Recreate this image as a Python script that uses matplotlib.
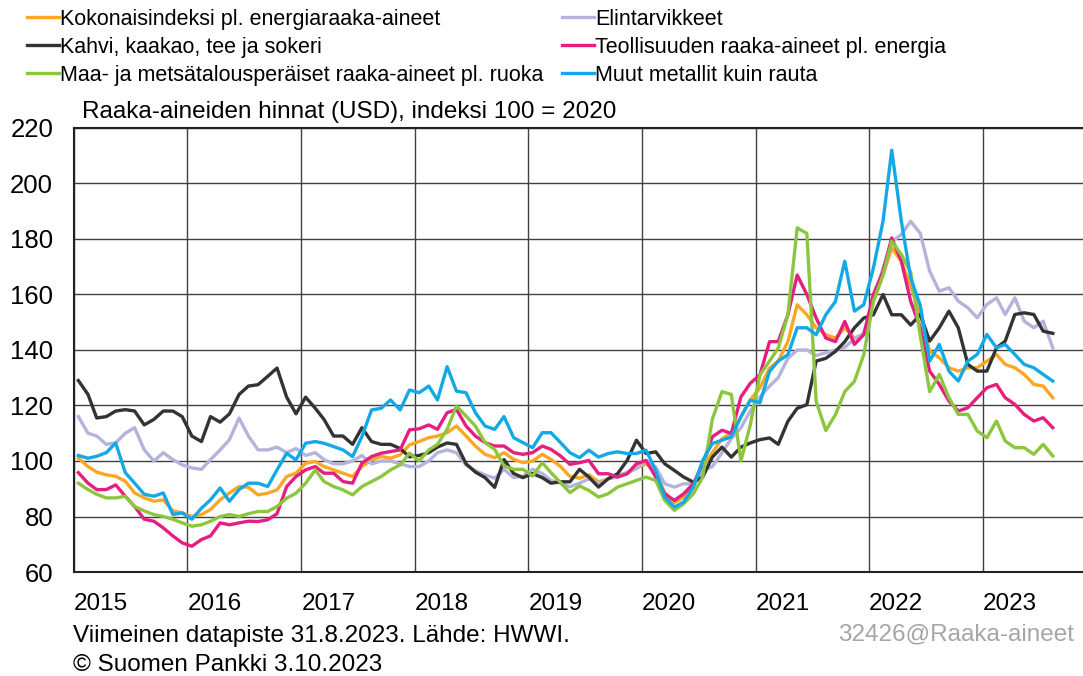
import datetime as dt
import pandas as pd
import matplotlib
matplotlib.use("Agg")
import matplotlib.pyplot as plt

plt.rcParams["font.family"] = ["Liberation Sans", "DejaVu Sans"]

# Monthly values, Jan 2015 .. Aug 2023
dates = pd.date_range("2015-01-01", "2023-08-01", freq="MS") + pd.Timedelta(days=14)

kokonais = [
    101, 98, 96, 95, 94.5, 92.7, 88.5, 86.7, 85.5, 86, 82, 81.3,
    80, 80.7, 82.5, 86, 88.5, 90.8, 90.5, 87.8, 88.4, 89.6, 94.4, 95.6,
    99.2, 99.8, 98, 96.8, 95.6, 94.4, 98, 100.4, 101.6, 101, 102.2, 105.8,
    107, 108.4, 109, 110.2, 112.6, 109, 105.4, 102.4, 101.2, 103, 100.6, 99.4,
    100, 102.4, 100.6, 98, 94.4, 93.8, 95, 92.5, 93.5, 95, 95.5, 97.5,
    99, 96, 88.5, 85, 87, 91, 98, 103, 108, 110, 116, 122,
    126.3, 133.5, 136, 143, 156.3, 152.7, 148, 145.5, 144.3, 148, 144.3, 145.5,
    157.5, 167, 176.8, 172, 163, 152.8, 139.6, 137.2, 133.6, 132.4, 133.6, 133.6,
    136, 138.4, 134.8, 133.6, 131.2, 127.6, 127, 122.8,
]
elintarvikkeet = [
    116, 110, 109, 106, 106.5, 110, 112, 104, 100, 103, 100.5, 98.6,
    97.5, 97, 100.5, 104, 107.7, 115.5, 109, 104, 104, 105, 103, 104.5,
    102, 103, 100.5, 99, 99, 100, 102, 99, 100, 100, 99, 98,
    98, 100, 103, 104, 103, 98.5, 96.5, 95, 93.8, 97, 94, 94.5,
    97, 95.5, 93, 92, 90.7, 92, 93.6, 91.8, 93.6, 94.2, 96, 97.2,
    100.2, 97.8, 91.8, 90.6, 91.8, 91.8, 96.6, 98, 103, 108, 112, 118,
    123, 127, 130, 137, 140, 140, 138, 139, 140, 141, 144, 146,
    157.5, 169.5, 179, 181.6, 186.4, 182, 168.4, 161.2, 162.4, 157.6, 155.2, 151.6,
    156.4, 158.8, 152.8, 158.8, 150.4, 148, 150.4, 140.8,
]
kahvi = [
    129, 124, 115.5, 116, 118, 118.5, 118, 113, 115, 118, 118, 116,
    109, 107, 116, 114, 117, 124, 127, 127.5, 130.5, 133.5, 123, 117,
    123, 119, 115, 109, 109, 106, 112, 107, 106, 106, 104.5, 101.5,
    102, 103, 105, 106.5, 106, 99, 96, 94, 90.5, 100.5, 95.5, 94,
    95.5, 94, 92, 92.5, 92.5, 97, 94.2, 90.6, 93.6, 95.4, 100.2, 107.5,
    102.7, 103.3, 99, 96.6, 94.2, 92.4, 94.2, 101.4, 105, 101.4, 105, 106.5,
    107.7, 108.3, 106, 114.3, 119, 120.3, 136, 137, 139.5, 143, 148, 151.5,
    152.7, 160, 152.7, 152.7, 149, 152.8, 143.2, 148, 154, 148, 134.8, 132.4,
    132.4, 140.8, 143.2, 152.8, 153.4, 152.8, 146.8, 146,
]
teollisuus = [
    95.8, 92, 89.7, 89.7, 91.4, 87.3, 83.6, 79, 78.3, 75.9, 73, 70.5,
    69.3, 71.7, 73, 77.7, 77, 77.7, 78.3, 78.2, 78.8, 81, 90.8, 94.4,
    96.8, 98, 95.6, 95.6, 92.6, 92, 99.2, 101.6, 102.8, 103.4, 104, 111.2,
    111.6, 113, 111.4, 117.4, 118.6, 112.6, 109, 106.6, 105.4, 105.4, 103, 102.4,
    103, 105.4, 104.2, 101.8, 98.8, 99.4, 100.2, 95.4, 95.4, 94.2, 95.4, 99,
    100.2, 94.2, 88.2, 85.8, 88.2, 91.8, 99, 108.7, 111.1, 109.9, 123.1, 128,
    131, 143, 143, 152.7, 167, 160, 151.5, 144.3, 143, 150.3, 142, 145.5,
    160, 168.3, 180.4, 172, 157.5, 148, 132.4, 127.6, 121.6, 118, 119.2, 122.8,
    126.4, 127.6, 122.8, 120.4, 116.8, 114.4, 115.6, 112,
]
maa_metsa = [
    92, 89.7, 88, 86.7, 86.7, 87.3, 83.6, 82, 80.7, 80, 79, 77.7,
    76.5, 77, 78.3, 80, 80.7, 80, 81, 81.8, 81.8, 83.6, 86.6, 88.4,
    92, 96.8, 92.6, 90.8, 89.6, 87.8, 90.8, 92.6, 94.4, 96.8, 98.6, 102.8,
    100, 104, 106, 111.4, 119.8, 116.2, 112.6, 106.6, 104.2, 98.2, 97, 97,
    94.6, 99.4, 95.8, 92.2, 88.6, 91, 89.4, 87, 88.2, 90.6, 91.8, 93,
    94.2, 93, 85.8, 82.2, 84.6, 88.2, 94.2, 115, 125, 124, 100, 113,
    131, 136, 140.7, 152.7, 184, 182, 121.5, 111, 116.7, 125, 128.7, 138.3,
    157.5, 167, 179.2, 174.4, 168, 145, 125, 131.2, 122.8, 116.8, 116.8, 110.8,
    108.4, 114.4, 107.2, 104.8, 104.8, 102.4, 106, 101.8,
]
metallit = [
    102, 101, 101.7, 103, 106.5, 95.8, 92, 88, 87.3, 88.5, 80.7, 81.3,
    79, 83, 86, 90.3, 85.5, 89.7, 92, 92, 90.8, 96.8, 102.8, 100.4,
    106.4, 107, 106.4, 105.2, 104, 101.6, 108.8, 118.4, 119, 122, 118.4, 125.6,
    124.6, 127, 122, 134, 125.2, 124.6, 117.4, 112.6, 111.4, 116, 108.4, 106.6,
    104.8, 110.2, 110.2, 106.6, 103, 101.2, 103.9, 101.4, 102.7, 103.3, 102.7, 102.7,
    103.9, 96.6, 87, 83.4, 85.2, 90.6, 100.2, 106.3, 107.5, 108.7, 115.9, 121.9,
    121, 132.3, 136, 138.3, 148, 148, 145.5, 152.7, 157.5, 172, 154, 156.3,
    169.5, 186.4, 212, 186.4, 166, 156, 136, 142, 132.4, 128.8, 136, 138.4,
    145.6, 140.8, 142, 138.4, 134.8, 133.6, 131.2, 128.8,
]

series = [
    ("Kokonaisindeksi pl. energiaraaka-aineet", kokonais, "#FBA724"),
    ("Elintarvikkeet", elintarvikkeet, "#B3B3DB"),
    ("Kahvi, kaakao, tee ja sokeri", kahvi, "#333333"),
    ("Teollisuuden raaka-aineet pl. energia", teollisuus, "#E61E7F"),
    ("Maa- ja metsätalousperäiset raaka-aineet pl. ruoka", maa_metsa, "#8CC63F"),
    ("Muut metallit kuin rauta", metallit, "#14A9E6"),
]

W, H = 1083, 676
fig = plt.figure(figsize=(W / 100, H / 100), dpi=100)
ax = fig.add_axes([74 / W, 1 - 572 / H, (1096 - 74) / W, (572 - 128) / H])

lines = {}
for name, vals, col in series:
    lines[name], = ax.plot(dates, vals, color=col, lw=2.4, label=name)

ax.set_xlim(dt.datetime(2015, 1, 1), dt.datetime(2024, 1, 1))
ax.set_ylim(60, 220)
ax.set_yticks(range(60, 221, 20))
years = list(range(2015, 2024))
ax.set_xticks([dt.datetime(y, 1, 1) for y in years])
ax.set_xticklabels([str(y) for y in years], ha="left")
ax.tick_params(axis="y", length=0, pad=15, labelsize=18.5)
ax.tick_params(axis="x", length=0, pad=15, labelsize=17.5)
ax.grid(True, color="#404040", lw=1)
ax.set_axisbelow(True)
for s in ax.spines.values():
    s.set_linewidth(1.5)
    s.set_color("#222222")

# legend: two columns above the plot
order = [0, 2, 4, 1, 3, 5]
handles = [lines[series[i][0]] for i in order]
fig.legend(handles, [h.get_label() for h in handles], ncol=2, frameon=False,
           loc="upper left", bbox_to_anchor=(27 / W, 1 - 9 / H),
           fontsize=15.5, handlelength=1.5, handletextpad=0.05,
           columnspacing=0.85, labelspacing=0.32, borderpad=0, borderaxespad=0)

fig.text(82 / W, 1 - 112 / H, "Raaka-aineiden hinnat (USD), indeksi 100 = 2020",
         fontsize=17.5, va="center", ha="left")
fig.text(73 / W, 1 - 636 / H, "Viimeinen datapiste 31.8.2023. Lähde: HWWI.",
         fontsize=17.5, va="center", ha="left")
fig.text(73 / W, 1 - 665 / H, "© Suomen Pankki 3.10.2023",
         fontsize=17.5, va="center", ha="left")
fig.text(1074 / W, 1 - 634 / H, "32426@Raaka-aineet",
         fontsize=17.5, va="center", ha="right", color="#A6A6A6")

fig.savefig("out.png", dpi=100)
